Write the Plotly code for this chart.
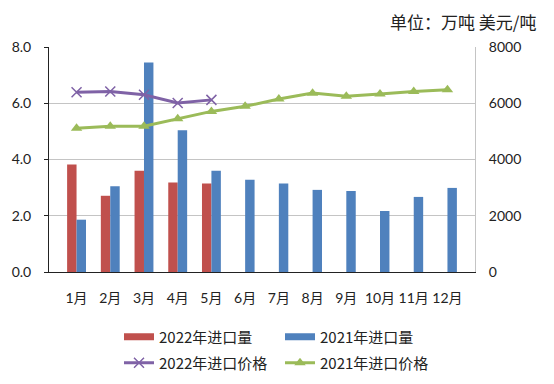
import plotly.graph_objects as go

months = ["1月", "2月", "3月", "4月", "5月", "6月", "7月", "8月", "9月", "10月", "11月", "12月"]
imp_2022 = [3.82, 2.71, 3.60, 3.18, 3.15]
imp_2021 = [1.86, 3.05, 7.45, 5.04, 3.60, 3.28, 3.15, 2.92, 2.88, 2.17, 2.67, 2.99]
price_2022 = [6390, 6420, 6300, 6010, 6120]
price_2021 = [5110, 5180, 5180, 5450, 5710, 5890, 6150, 6360, 6250, 6330, 6420, 6480]

C_RED, C_BLUE, C_PURPLE, C_GREEN = "#C0504D", "#4F81BD", "#7F62A6", "#9BBB59"
CJK = "Noto Sans CJK SC, sans-serif"
NUM = "Lato, Noto Sans CJK SC, sans-serif"

# page body has an 8px margin, so the figure is drawn 8px smaller
W, H = 546, 376
L, R, T, B = 41, 79, 39, 112
PW, PH = W - L - R, H - T - B

fig = go.Figure()
fig.add_trace(go.Bar(x=months[:len(imp_2022)], y=imp_2022, name="2022年进口量",
                     marker=dict(color=C_RED, line=dict(width=0)), showlegend=False))
fig.add_trace(go.Bar(x=months, y=imp_2021, name="2021年进口量",
                     marker=dict(color=C_BLUE, line=dict(width=0)), showlegend=False))
# legend proxies for the bars (wide flat swatches)
fig.add_trace(go.Scatter(x=[None], y=[None], mode="lines", name="2022年进口量",
                         line=dict(color=C_RED, width=7), legend="legend"))
fig.add_trace(go.Scatter(x=[None], y=[None], mode="lines", name="2021年进口量",
                         line=dict(color=C_BLUE, width=7), legend="legend"))
fig.add_trace(go.Scatter(x=months[:len(price_2022)], y=price_2022, name="2022年进口价格",
                         yaxis="y2", mode="lines+markers", legend="legend2",
                         line=dict(color=C_PURPLE, width=3),
                         marker=dict(symbol="x-thin", size=10, color=C_PURPLE,
                                     line=dict(width=1.5, color=C_PURPLE))))
fig.add_trace(go.Scatter(x=months, y=price_2021, name="2021年进口价格",
                         yaxis="y2", mode="lines+markers", legend="legend2",
                         line=dict(color=C_GREEN, width=3),
                         marker=dict(symbol="triangle-up", size=10, color=C_GREEN)))

leg_common = dict(orientation="h", x=(111 - L) / PW, xanchor="left", yanchor="middle",
                  entrywidth=116, entrywidthmode="pixels", itemwidth=30,
                  font=dict(size=15, family=CJK, color="#222222"),
                  bgcolor="rgba(0,0,0,0)", traceorder="normal")

fig.update_layout(
    width=W, height=H,
    margin=dict(l=L, r=R, t=T, b=B, autoexpand=False),
    paper_bgcolor="white", plot_bgcolor="white",
    font=dict(family=NUM, size=14, color="#222222"),
    barmode="group", bargap=0.44, bargroupgap=0.0,
    showlegend=True,
    legend=dict(leg_common, y=-(329 - (T + PH)) / PH),
    legend2=dict(leg_common, y=-(355 - (T + PH)) / PH),
    xaxis=dict(type="category", showgrid=False, showline=True, linecolor="#222222", linewidth=1,
               ticks="", tickfont=dict(size=14, family=NUM), ticklabelstandoff=13),
    yaxis=dict(range=[0, 8], dtick=2, tickformat=".1f", showgrid=True, gridcolor="#C4C4C4",
               gridwidth=1, showline=True, linecolor="#222222", linewidth=1,
               ticks="outside", ticklen=4, tickcolor="#222222", tickfont=dict(size=14),
               ticklabelstandoff=10, zeroline=False),
    yaxis2=dict(range=[0, 8000], dtick=2000, overlaying="y", side="right", showgrid=False,
                showline=True, linecolor="#C4C4C4", ticks="", tickfont=dict(size=14),
                ticklabelstandoff=10, zeroline=False),
    annotations=[dict(text="单位：万吨 美元/吨", xref="paper", yref="paper",
                      x=(529 - L) / PW, y=1 + T / PH,
                      xanchor="right", yanchor="top", showarrow=False, borderpad=0,
                      font=dict(size=17, family=CJK, color="#222222"))],
)

fig.write_html("out.html")
